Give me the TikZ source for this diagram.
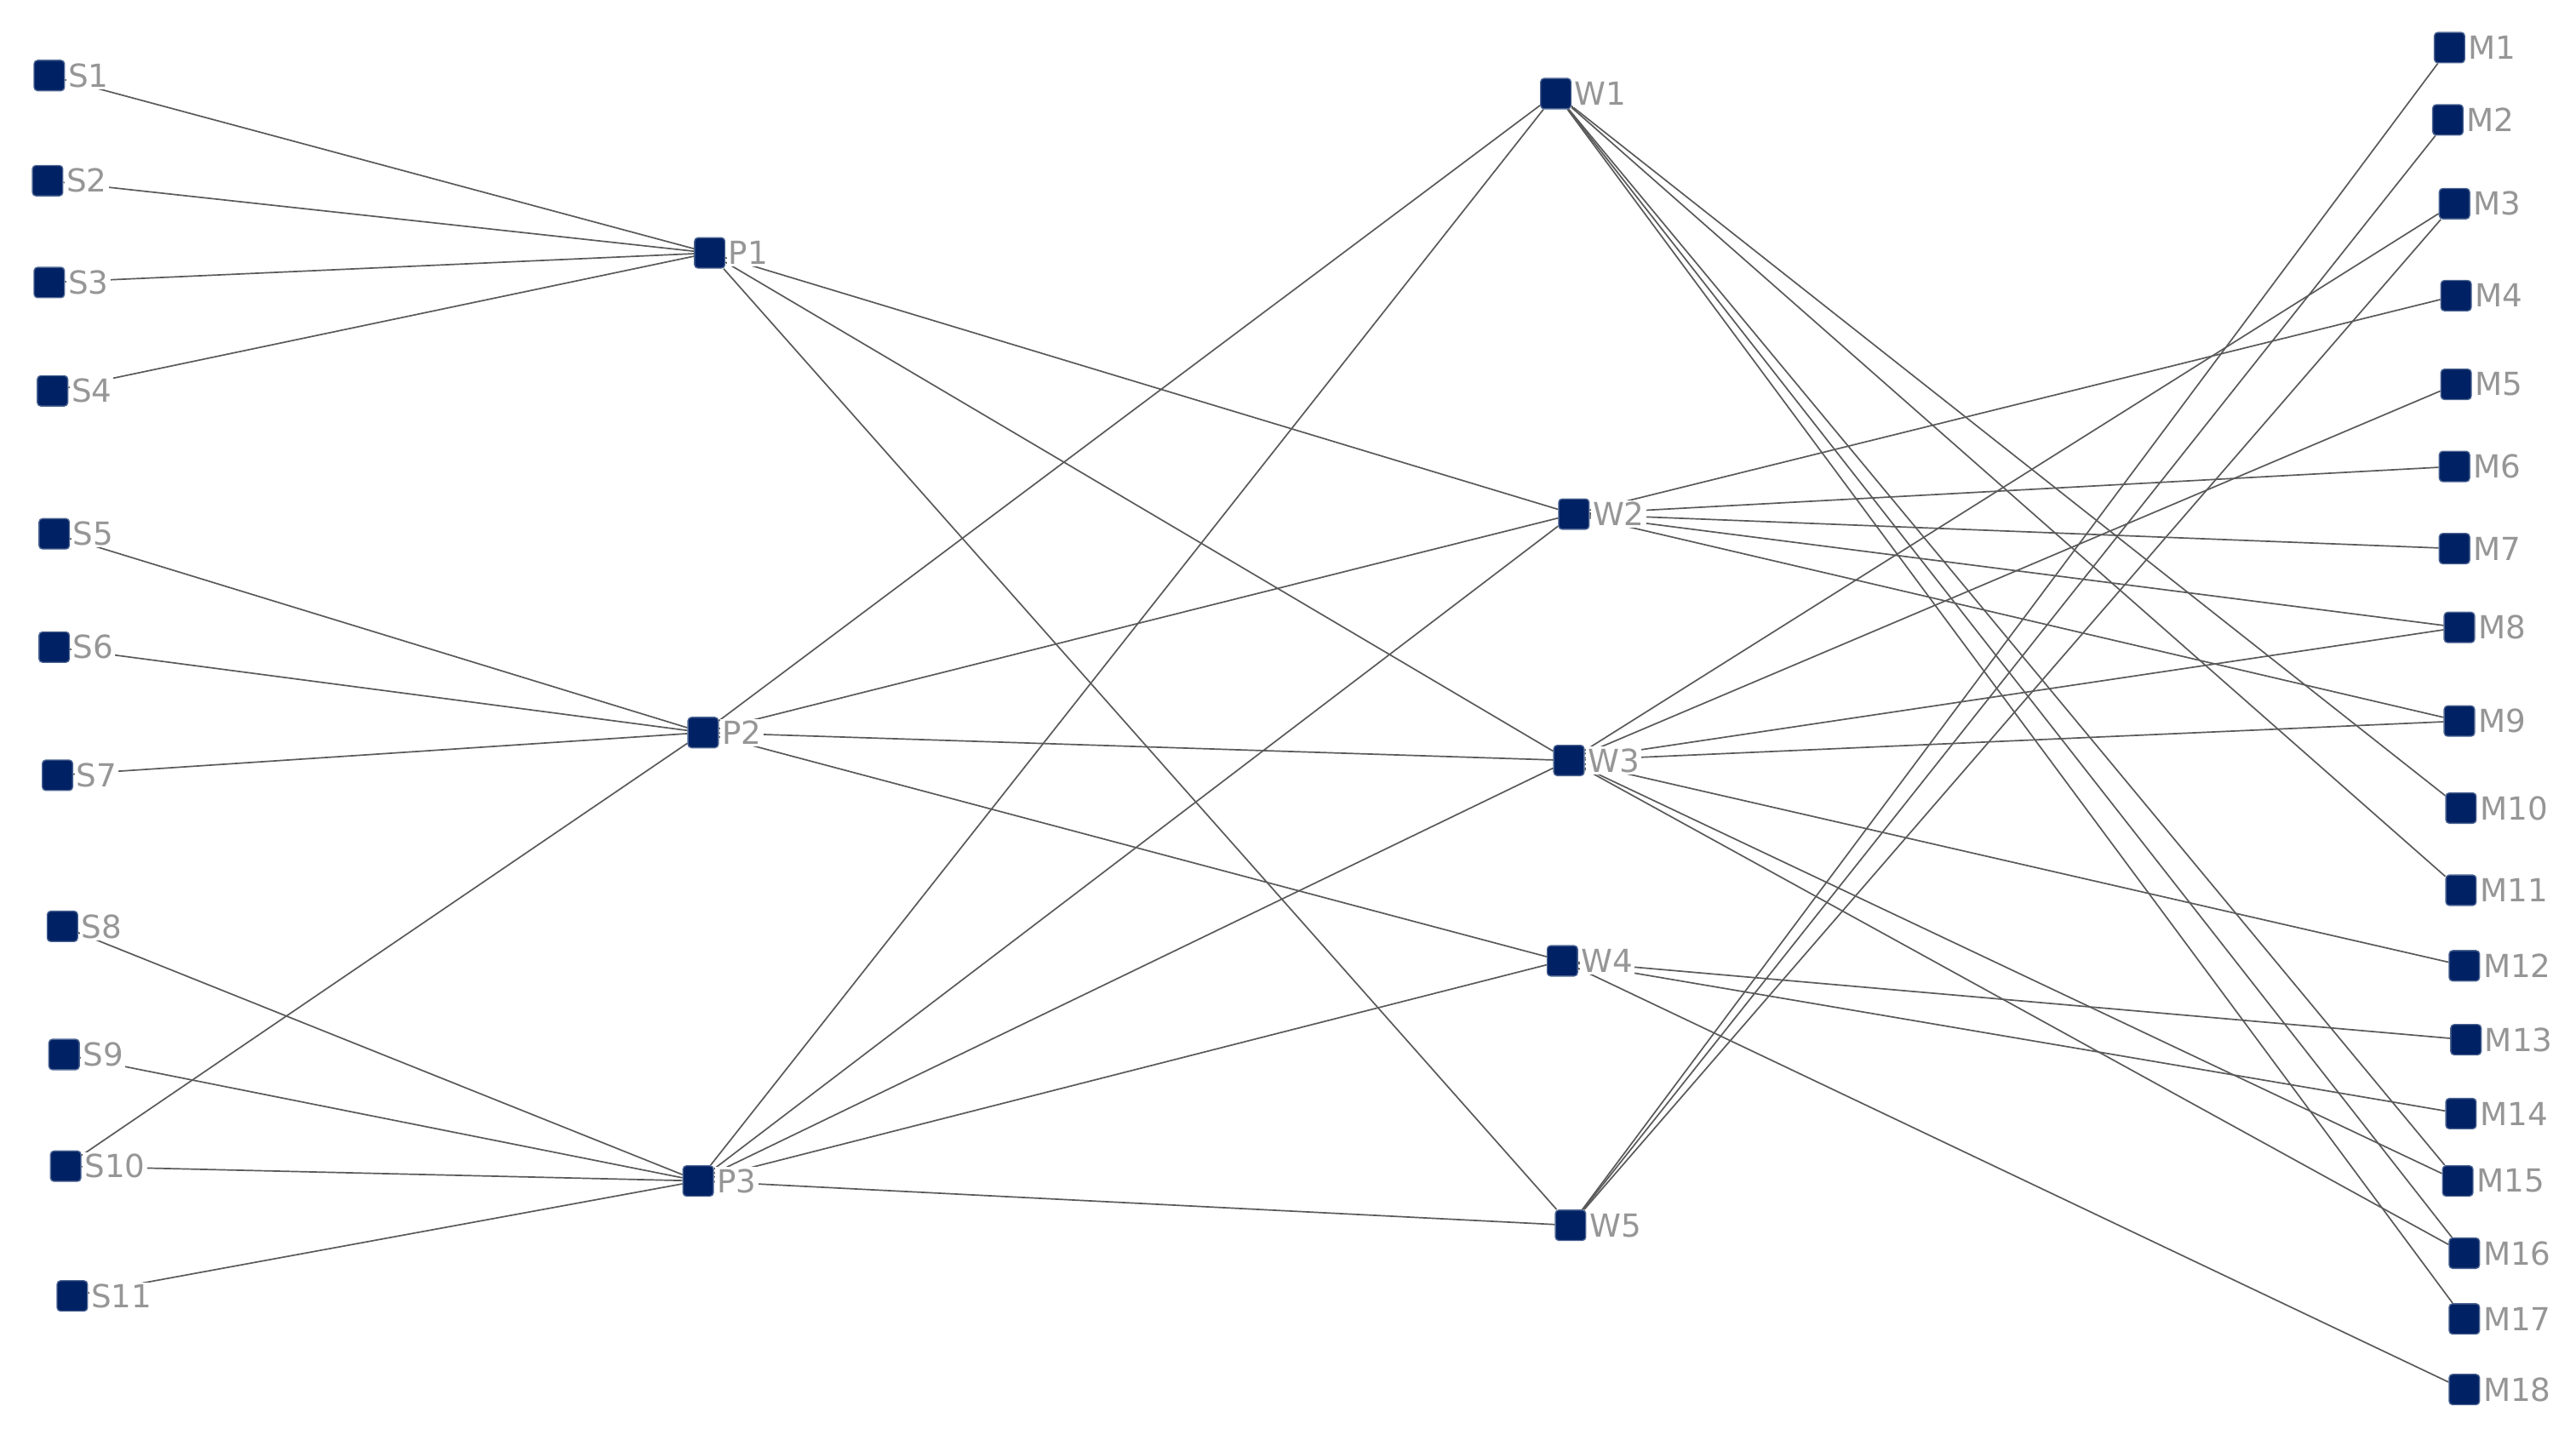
\documentclass[tikz,border=0pt]{standalone}
\usepackage{fontspec}
\newfontfamily\tagfont{DejaVu Sans}
\usepackage{xcolor}
\usepackage{tikz}
\usetikzlibrary{
  backgrounds
}
\definecolor{unitblue}{RGB}{0,33,99}
\definecolor{taggray}{RGB}{150,150,150}
\definecolor{linkgray}{RGB}{90,90,90}
\tikzset{
  unit/.style={rectangle,fill=unitblue,draw=unitblue!70,rounded corners=1.2pt,minimum size=3.7mm,inner sep=0pt},
  tag/.style={fill=white,text=taggray,inner sep=0.6pt,font=\tagfont\fontsize{11}{13}\selectfont},
  link/.style={draw=linkgray,line width=0.5pt}
}

\begin{document}
\begin{tikzpicture}[x=0.2mm,y=-0.2mm,label distance=0.3pt]
    \useasboundingbox (0,0) rectangle (1568,880);
    % suppliers
    \foreach \x/\y/\id/\name in {30/46/s1/S1,29/110/s2/S2,30/172/s3/S3,32/238/s4/S4,33/325/s5/S5,33/394/s6/S6,35/472/s7/S7,38/564/s8/S8,39/642/s9/S9,40/710/s10/S10,44/789/s11/S11}
        \node[unit,label={[tag]right:\name}] (\id) at (\x,\y) {};
    % plants
    \foreach \x/\y/\id/\name in {432/154/p1/P1,428/446/p2/P2,425/719/p3/P3}
        \node[unit,label={[tag]right:\name}] (\id) at (\x,\y) {};
    % warehouses
    \foreach \x/\y/\id/\name in {947/57/w1/W1,958/313/w2/W2,955/463/w3/W3,951/585/w4/W4,956/746/w5/W5}
        \node[unit,label={[tag]right:\name}] (\id) at (\x,\y) {};
    % markets
    \foreach \x/\y/\id/\name in {1491/29/m1/M1,1490/73/m2/M2,1494/124/m3/M3,1495/180/m4/M4,1495/234/m5/M5,1494/284/m6/M6,1494/334/m7/M7,1497/382/m8/M8,1497/439/m9/M9,1498/492/m10/M10,1498/542/m11/M11,1500/588/m12/M12,1501/633/m13/M13,1498/678/m14/M14,1496/719/m15/M15,1500/763/m16/M16,1500/803/m17/M17,1500/846/m18/M18}
        \node[unit,label={[tag]right:\name}] (\id) at (\x,\y) {};

    \begin{scope}[on background layer]
        \foreach \a/\b in {s1/p1,s2/p1,s3/p1,s4/p1,s5/p2,s6/p2,s7/p2,s10/p2,s8/p3,s9/p3,s10/p3,s11/p3}
            \draw[link] (\a) -- (\b);
        \foreach \a/\b in {p1/w2,p1/w3,p1/w5,p2/w1,p2/w2,p2/w3,p2/w4,p3/w1,p3/w2,p3/w3,p3/w4,p3/w5}
            \draw[link] (\a) -- (\b);
        \foreach \a/\b in {w1/m10,w1/m11,w1/m15,w1/m16,w1/m17,w2/m4,w2/m6,w2/m7,w2/m8,w2/m9,w3/m3,w3/m5,w3/m8,w3/m9,w3/m12,w3/m15,w3/m16,w4/m13,w4/m14,w4/m18,w5/m1,w5/m2,w5/m3}
            \draw[link] (\a) -- (\b);
    \end{scope}
\end{tikzpicture}
\end{document}
